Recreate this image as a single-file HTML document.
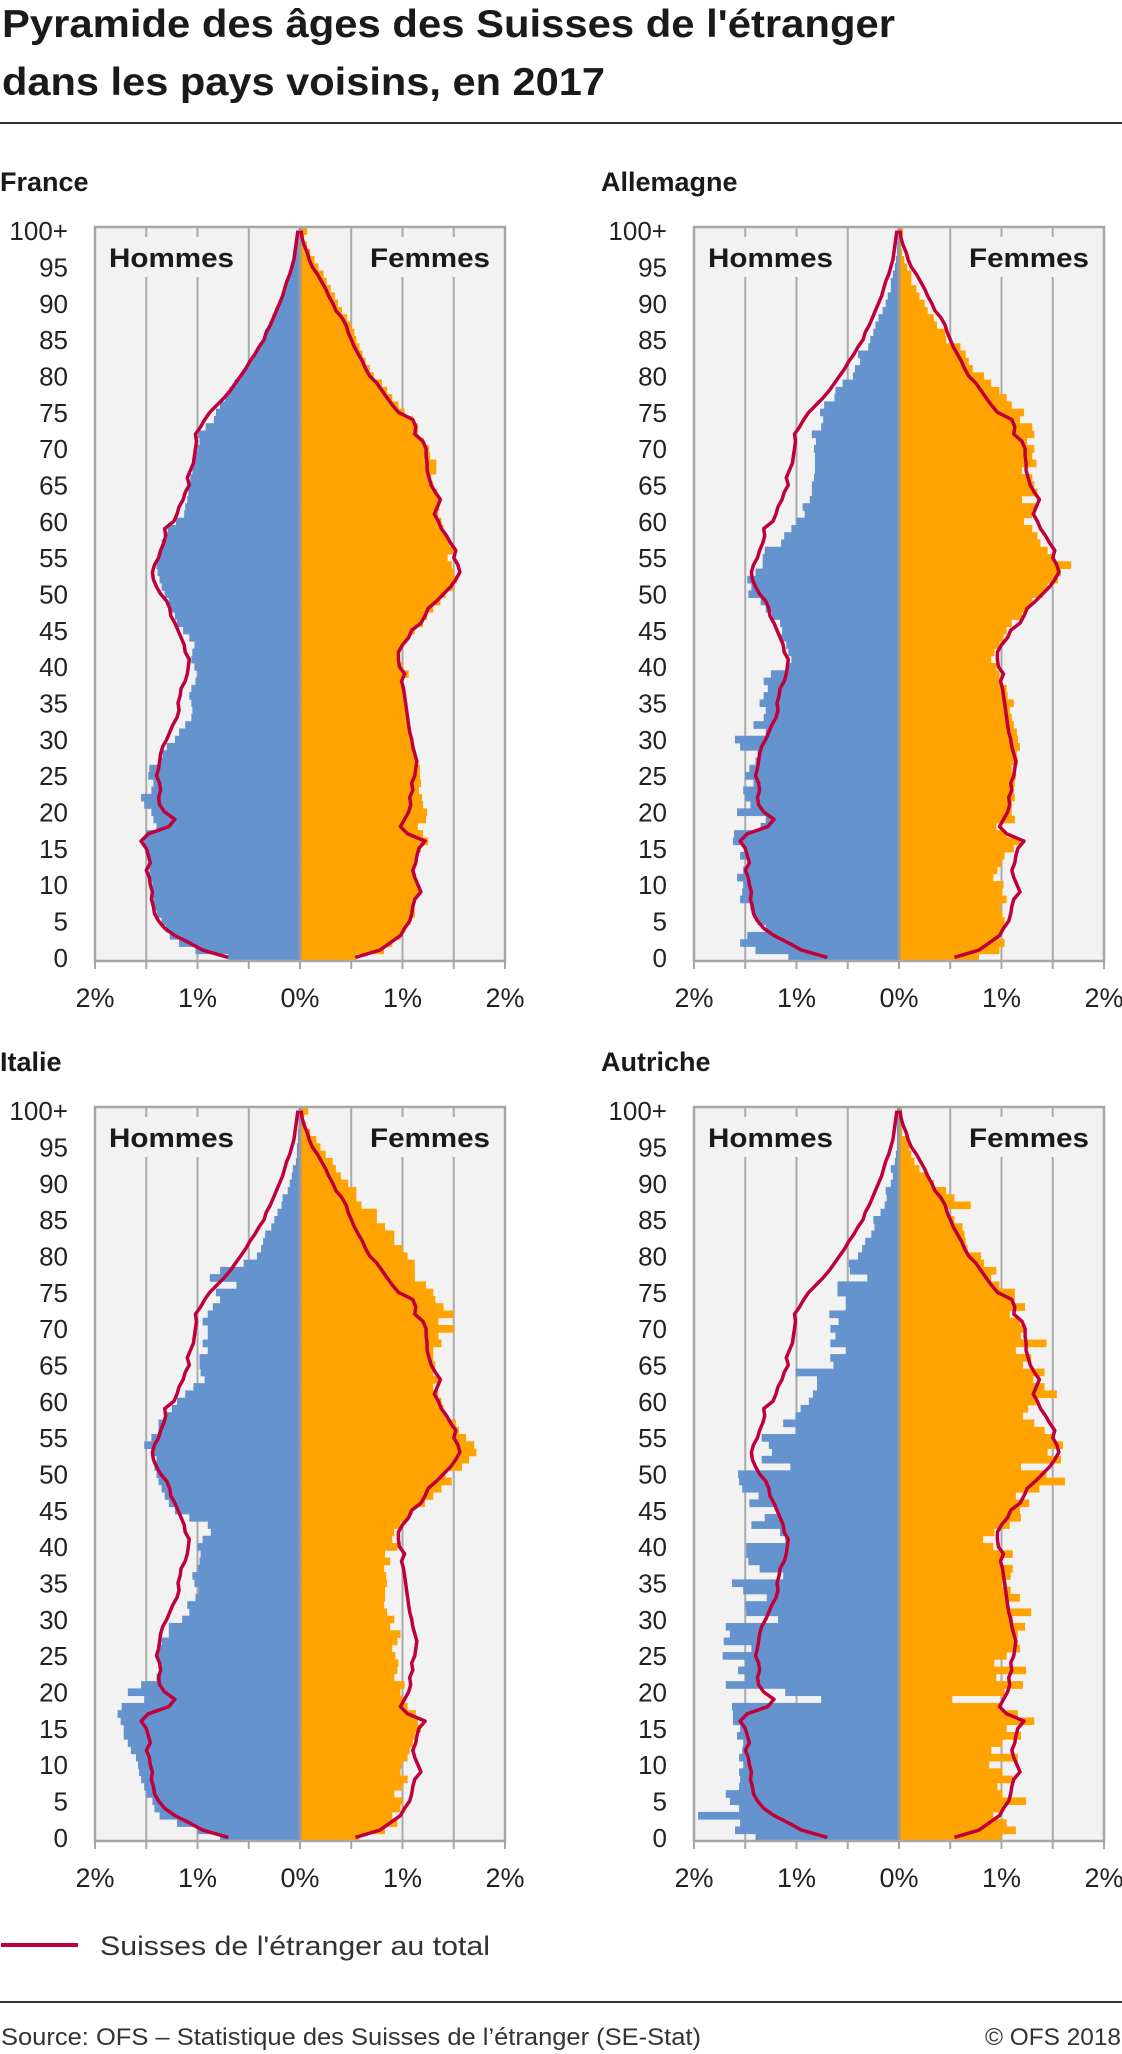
<!DOCTYPE html>
<html><head><meta charset="utf-8">
<style>
html,body{margin:0;padding:0;background:#fff;}
svg{display:block;font-family:"Liberation Sans",sans-serif;}
</style></head>
<body>
<svg id="chart" width="1122" height="2054" viewBox="0 0 1122 2054" xmlns="http://www.w3.org/2000/svg">
<text x="2" y="37" font-size="39" font-weight="bold" fill="#1a1a1a" textLength="893" lengthAdjust="spacingAndGlyphs">Pyramide des âges des Suisses de l'étranger</text>
<text x="2" y="95" font-size="39" font-weight="bold" fill="#1a1a1a" textLength="603" lengthAdjust="spacingAndGlyphs">dans les pays voisins, en 2017</text>
<rect x="0" y="122" width="1122" height="2" fill="#333"/>
<g id="panels"></g>
<line x1="1" y1="1945" x2="78" y2="1945" stroke="#c0003c" stroke-width="4"/>
<text x="100" y="1955" font-size="27" fill="#333" textLength="390" lengthAdjust="spacingAndGlyphs">Suisses de l'étranger au total</text>
<rect x="0" y="2001" width="1122" height="2" fill="#333"/>
<text x="1" y="2045" font-size="24" fill="#333" textLength="700" lengthAdjust="spacingAndGlyphs">Source: OFS – Statistique des Suisses de l’étranger (SE-Stat)</text>
<text x="1121" y="2045" font-size="24" fill="#333" text-anchor="end" textLength="136" lengthAdjust="spacingAndGlyphs">© OFS 2018</text>
</svg>
<script>
const ageTicks = [0,5,10,15,20,25,30,35,40,45,50,55,60,65,70,75,80,85,90,95,100];
const ageTickLabels = ["0","5","10","15","20","25","30","35","40","45","50","55","60","65","70","75","80","85","90","95","100+"];
const xTicks = [-2,-1,0,1,2];
const xTickLabels = ["2%","1%","0%","1%","2%"];
const countries = ["France","Allemagne","Italie","Autriche"];

const totalMen = [0.70,0.95,1.08,1.22,1.32,1.38,1.42,1.43,1.45,1.44,1.46,1.47,1.50,1.46,1.48,1.50,1.55,1.48,1.28,1.22,1.32,1.37,1.38,1.36,1.37,1.40,1.38,1.37,1.36,1.34,1.30,1.27,1.24,1.20,1.18,1.19,1.17,1.16,1.12,1.10,1.09,1.08,1.12,1.13,1.16,1.19,1.22,1.26,1.27,1.30,1.36,1.40,1.43,1.44,1.42,1.38,1.36,1.33,1.31,1.32,1.23,1.20,1.18,1.14,1.12,1.08,1.10,1.07,1.04,1.03,1.02,1.01,1.02,0.97,0.93,0.88,0.81,0.74,0.68,0.63,0.58,0.53,0.49,0.44,0.40,0.35,0.33,0.29,0.26,0.23,0.20,0.17,0.15,0.13,0.10,0.08,0.06,0.05,0.04,0.03,0.02];
const totalWomen = [0.54,0.78,0.88,0.98,1.02,1.07,1.09,1.10,1.12,1.18,1.15,1.12,1.10,1.13,1.14,1.16,1.22,1.05,0.98,1.02,1.06,1.08,1.07,1.10,1.09,1.12,1.13,1.14,1.12,1.10,1.09,1.07,1.06,1.05,1.04,1.03,1.02,1.01,0.99,1.02,0.97,0.96,0.96,1.00,1.06,1.09,1.18,1.22,1.25,1.33,1.40,1.47,1.52,1.56,1.54,1.50,1.52,1.47,1.43,1.38,1.35,1.31,1.34,1.37,1.32,1.28,1.26,1.24,1.24,1.23,1.23,1.20,1.12,1.13,1.10,0.96,0.90,0.85,0.80,0.75,0.68,0.64,0.61,0.57,0.53,0.50,0.47,0.45,0.41,0.35,0.32,0.28,0.25,0.21,0.17,0.12,0.09,0.07,0.04,0.02,0.01];

const franceMen = [0.70,1.02,1.18,1.27,1.31,1.35,1.40,1.42,1.43,1.44,1.44,1.46,1.47,1.46,1.48,1.49,1.52,1.50,1.40,1.43,1.45,1.52,1.55,1.45,1.43,1.48,1.47,1.38,1.34,1.30,1.22,1.18,1.12,1.06,1.05,1.06,1.08,1.06,1.02,1.00,1.03,1.06,1.05,1.03,1.08,1.14,1.20,1.22,1.26,1.28,1.32,1.35,1.37,1.39,1.40,1.38,1.36,1.35,1.30,1.29,1.21,1.13,1.12,1.10,1.09,1.08,1.07,1.05,1.04,1.02,1.00,0.98,0.99,0.92,0.84,0.82,0.78,0.73,0.69,0.64,0.58,0.53,0.49,0.44,0.40,0.36,0.34,0.30,0.27,0.24,0.20,0.17,0.15,0.13,0.11,0.08,0.06,0.04,0.03,0.02,0.01];
const franceWomen = [0.55,0.82,0.90,0.98,1.03,1.08,1.12,1.12,1.13,1.16,1.14,1.13,1.12,1.13,1.15,1.18,1.25,1.20,1.15,1.23,1.24,1.20,1.19,1.16,1.18,1.17,1.17,1.14,1.12,1.11,1.08,1.07,1.06,1.04,1.03,1.02,1.01,1.00,0.98,1.06,1.00,0.96,0.97,1.01,1.05,1.12,1.20,1.24,1.30,1.37,1.42,1.50,1.53,1.50,1.48,1.44,1.50,1.46,1.43,1.40,1.38,1.35,1.36,1.36,1.34,1.30,1.28,1.33,1.33,1.27,1.26,1.21,1.15,1.15,1.10,1.02,0.96,0.90,0.85,0.80,0.72,0.68,0.64,0.61,0.58,0.55,0.53,0.50,0.46,0.41,0.37,0.34,0.30,0.26,0.23,0.18,0.14,0.10,0.07,0.04,0.07];

const germanyMen = [1.08,1.40,1.55,1.48,1.30,1.38,1.42,1.45,1.55,1.53,1.52,1.58,1.52,1.48,1.55,1.50,1.62,1.61,1.35,1.30,1.58,1.45,1.50,1.52,1.42,1.50,1.46,1.40,1.38,1.55,1.60,1.30,1.42,1.32,1.30,1.36,1.32,1.28,1.32,1.25,1.08,1.05,1.08,1.10,1.15,1.14,1.16,1.24,1.30,1.35,1.47,1.44,1.48,1.40,1.33,1.33,1.31,1.15,1.12,1.05,1.00,0.92,0.94,0.87,0.85,0.85,0.83,0.82,0.82,0.82,0.83,0.81,0.85,0.76,0.74,0.77,0.73,0.63,0.62,0.55,0.45,0.43,0.38,0.40,0.30,0.28,0.25,0.23,0.20,0.16,0.13,0.11,0.08,0.08,0.06,0.04,0.03,0.02,0.02,0.01,0.01];
const germanyWomen = [0.78,0.98,1.03,0.98,1.02,1.03,1.01,0.99,1.05,1.01,1.02,0.92,0.96,1.00,1.03,1.12,1.18,1.05,0.95,1.13,1.10,1.10,1.13,1.12,1.13,1.14,1.10,1.16,1.15,1.18,1.16,1.15,1.12,1.10,1.08,1.12,1.06,1.05,1.00,0.98,0.95,0.90,0.93,0.98,1.02,1.05,1.10,1.20,1.25,1.30,1.40,1.45,1.55,1.58,1.68,1.50,1.45,1.38,1.35,1.30,1.22,1.30,1.33,1.20,1.35,1.32,1.30,1.20,1.34,1.30,1.32,1.25,1.32,1.30,1.18,1.22,1.10,1.05,0.98,0.90,0.83,0.72,0.68,0.65,0.60,0.46,0.45,0.37,0.34,0.28,0.25,0.20,0.17,0.12,0.12,0.08,0.05,0.03,0.02,0.02,0.04];

const italyMen = [0.78,1.00,1.20,1.37,1.42,1.44,1.50,1.52,1.55,1.57,1.58,1.60,1.65,1.68,1.72,1.72,1.75,1.78,1.74,1.52,1.68,1.55,1.40,1.36,1.38,1.40,1.38,1.35,1.28,1.28,1.15,1.08,1.10,1.02,0.99,1.03,1.05,1.00,0.98,0.97,1.00,0.95,0.87,0.90,1.08,1.22,1.28,1.32,1.35,1.38,1.40,1.42,1.40,1.45,1.52,1.45,1.38,1.38,1.32,1.25,1.20,1.12,1.04,0.93,0.97,0.98,0.98,0.90,0.95,0.90,0.90,0.95,0.90,0.85,0.78,0.82,0.62,0.88,0.78,0.55,0.42,0.38,0.36,0.34,0.28,0.25,0.22,0.18,0.17,0.12,0.10,0.08,0.07,0.04,0.03,0.03,0.02,0.02,0.01,0.01,0.01];
const italyWomen = [0.58,0.83,0.95,0.90,0.98,1.00,0.92,1.00,1.05,0.98,0.99,1.05,1.07,1.10,1.12,1.18,1.15,1.13,1.05,1.00,0.98,1.02,0.92,0.95,0.96,0.93,0.90,0.95,0.98,0.88,0.92,0.85,0.82,0.83,0.83,0.85,0.84,0.82,0.88,0.83,0.95,0.90,0.92,0.98,1.05,1.10,1.22,1.30,1.38,1.48,1.42,1.58,1.65,1.72,1.70,1.62,1.55,1.52,1.42,1.40,1.38,1.35,1.30,1.35,1.30,1.32,1.30,1.30,1.38,1.35,1.50,1.35,1.50,1.40,1.32,1.30,1.23,1.12,1.12,1.12,1.05,1.00,0.92,0.92,0.83,0.75,0.75,0.60,0.55,0.55,0.47,0.40,0.35,0.32,0.25,0.20,0.16,0.10,0.06,0.04,0.08];

const austriaMen = [1.40,1.60,1.55,1.96,1.56,1.65,1.69,1.56,1.55,1.56,1.52,1.56,1.53,1.52,1.58,1.55,1.62,1.62,1.63,0.76,1.11,1.69,1.50,1.57,1.50,1.72,1.44,1.71,1.65,1.69,1.18,1.49,1.50,1.29,1.52,1.63,1.13,1.36,1.47,1.49,1.49,1.11,1.16,1.44,1.31,1.18,1.46,1.37,1.53,1.56,1.57,1.06,1.34,1.24,1.27,1.34,1.01,1.13,1.01,0.96,0.88,0.84,0.80,0.80,1.01,0.64,0.67,0.52,0.67,0.62,0.67,0.59,0.68,0.52,0.52,0.60,0.60,0.31,0.48,0.49,0.40,0.36,0.33,0.27,0.24,0.25,0.18,0.14,0.12,0.13,0.08,0.06,0.08,0.04,0.03,0.02,0.02,0.02,0.02,0.02,0.02];
const austriaWomen = [1.00,1.14,1.05,0.92,1.01,1.24,1.01,0.96,1.11,1.01,0.88,1.16,0.90,1.01,1.19,1.05,1.32,1.16,0.98,0.52,1.03,1.21,0.95,1.24,0.93,1.05,1.18,1.14,1.16,1.23,1.11,1.29,1.06,1.18,1.09,1.01,1.09,1.11,1.00,1.11,0.92,0.82,0.93,1.08,1.19,1.18,1.27,1.14,1.37,1.62,1.44,1.19,1.58,1.45,1.60,1.50,1.42,1.32,1.21,1.26,1.34,1.54,1.42,1.31,1.42,1.21,1.29,1.14,1.44,1.19,1.23,1.18,1.08,1.23,1.13,1.13,0.98,0.90,0.95,0.83,0.80,0.67,0.65,0.64,0.62,0.54,0.47,0.70,0.54,0.46,0.34,0.29,0.20,0.15,0.12,0.10,0.08,0.03,0.03,0.03,0.03];

const menSeries = [franceMen, germanyMen, italyMen, austriaMen];
const womenSeries = [franceWomen, germanyWomen, italyWomen, austriaWomen];

const NS = "http://www.w3.org/2000/svg";
const root = document.getElementById('panels');
function mk(tag, attrs, parent){
  const e = document.createElementNS(NS, tag);
  for (const k in attrs) e.setAttribute(k, attrs[k]);
  (parent||root).appendChild(e);
  return e;
}
const layouts = [
  {left:95, top:227, titleX:0, titleY:191, labelX:68},
  {left:694, top:227, titleX:601, titleY:191, labelX:667},
  {left:95, top:1107, titleX:0, titleY:1071, labelX:68},
  {left:694, top:1107, titleX:601, titleY:1071, labelX:667}
];
const W = 410, H = 734, UNIT = W/4;

countries.forEach((name, ci) => {
  const L = layouts[ci];
  const cx = L.left + W/2;
  const bottom = L.top + H;
  const xs = v => cx + v*UNIT;
  const band = H/101;
  const yTop = a => bottom - (a+1)*band;
  const yMid = a => bottom - (a+0.5)*band;
  const g = mk('g', {});
  
  
  const t = mk('text', {x:L.titleX, y:L.titleY, 'font-size':27, 'font-weight':'bold', fill:'#1a1a1a'}, g);
  t.textContent = name;
  
  
  const bg = mk('rect', {x:L.left, y:L.top, width:W, height:H, fill:'#f2f2f2'}, g);
  
  
  [-1.5,-1,-0.5,0.5,1,1.5].forEach(v => {
    const gl = mk('line', {x1:xs(v), x2:xs(v), y1:L.top, y2:bottom, stroke:'#aaaaaa', 'stroke-width':2}, g);
    
    
  });
  const men = menSeries[ci], women = womenSeries[ci];
  men.forEach((v, a) => {
    const r = mk('rect', {x:xs(-v), y:yTop(a), width:v*UNIT, height:band+0.4, fill:'#6593cd'}, g);
    
    
  });
  women.forEach((v, a) => {
    const r = mk('rect', {x:cx, y:yTop(a), width:v*UNIT, height:band+0.4, fill:'#ffa300'}, g);
    
    
  });
  // label backgrounds (hide gridlines)
  const hb = mk('rect', {x:L.left+10, y:L.top+10, width:135, height:40, fill:'#f2f2f2'}, g);
  
  
  const fb = mk('rect', {x:L.left+W-145, y:L.top+10, width:135, height:40, fill:'#f2f2f2'}, g);
  
  
  const hm = mk('text', {x:L.left+14, y:L.top+40, 'font-size':27, 'font-weight':'bold', fill:'#1a1a1a', textLength:125, lengthAdjust:'spacingAndGlyphs'}, g);
  hm.textContent = 'Hommes';
  
  
  const fm = mk('text', {x:L.left+W-15, y:L.top+40, 'font-size':27, 'font-weight':'bold', fill:'#1a1a1a', 'text-anchor':'end', textLength:120, lengthAdjust:'spacingAndGlyphs'}, g);
  fm.textContent = 'Femmes';
  
  
  // center axis
  const ca = mk('line', {x1:cx, x2:cx, y1:L.top, y2:bottom, stroke:'#9a9a9a', 'stroke-width':3}, g);
  
  
  // total lines
  const ptsM = totalMen.map((v,a) => xs(-v).toFixed(1)+','+yMid(a).toFixed(1)).join(' ');
  const lm = mk('polyline', {points:ptsM, fill:'none', stroke:'#c0003c', 'stroke-width':3.5, 'stroke-linejoin':'round'}, g);
  
  
  const ptsW = totalWomen.map((v,a) => xs(v).toFixed(1)+','+yMid(a).toFixed(1)).join(' ');
  const lw = mk('polyline', {points:ptsW, fill:'none', stroke:'#c0003c', 'stroke-width':3.5, 'stroke-linejoin':'round'}, g);
  
  
  // border
  const bd = mk('rect', {x:L.left, y:L.top, width:W, height:H, fill:'none', stroke:'#a6a6a6', 'stroke-width':2.5}, g);
  
  
  // ticks below axis
  [-2,-1.5,-1,-0.5,0,0.5,1,1.5,2].forEach(v => {
    const tk = mk('line', {x1:xs(v), x2:xs(v), y1:bottom, y2:bottom+8, stroke:'#a6a6a6', 'stroke-width':2}, g);
    
    
  });
  xTicks.forEach((v, i) => {
    const tl = mk('text', {x:xs(v), y:bottom+46, 'font-size':27, fill:'#222', 'text-anchor':'middle'}, g);
    tl.textContent = xTickLabels[i];
    
    
  });
  ageTicks.forEach((a, i) => {
    const yl = mk('text', {x:L.labelX, y:yMid(a)+9.5, 'font-size':26, fill:'#222', 'text-anchor':'end'}, g);
    yl.textContent = ageTickLabels[i];
    
    
  });
});
</script>
</body></html>
